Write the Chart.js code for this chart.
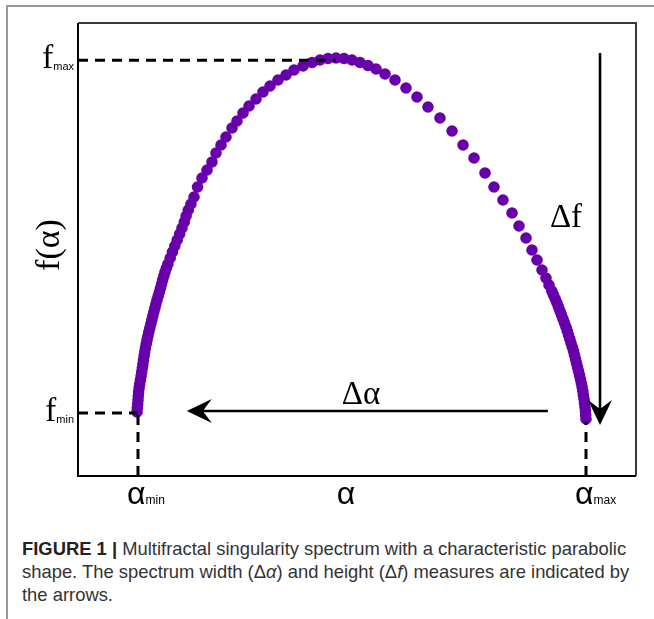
<!DOCTYPE html>
<html>
<head>
<meta charset="utf-8">
<script src="https://cdn.jsdelivr.net/npm/chart.js@4.4.1/dist/chart.umd.min.js"></script>
<style>
    html, body { margin: 0; padding: 0; background: #fff; }
    body { width: 654px; height: 619px; position: relative; overflow: hidden; }
    #frame { position: absolute; left: 6px; top: 5px; right: -4px; bottom: -4px;
             border-top: 2px solid #9a9a9a; border-left: 2px solid #9a9a9a; }
    #chartBox { position: absolute; left: 0; top: 0; width: 654px; height: 520px; }
    #caption { position: absolute; left: 22px; top: 537px; width: 630px;
               font: 18.4px "Liberation Sans", Arial, sans-serif; line-height: 23px;
               color: #333; white-space: nowrap; }
    #caption b { color: #222; }
</style>
</head>
<body>
<div id="frame"></div>
<div id="chartBox"><canvas id="spectrum" width="654" height="520"></canvas></div>
<div id="caption"><b>FIGURE 1 |</b> Multifractal singularity spectrum with a characteristic parabolic<br>shape. The spectrum width (Δ<i>α</i>) and height (Δ<i>f</i>) measures are indicated by<br>the arrows.</div>

<script>
// Spectre f(alpha), unités normalisées (0..1)
const spectrumAlpha = [
    // branche gauche (dense)
    0.10573, 0.10627, 0.10699, 0.10753, 0.10806, 0.10860, 0.10950, 0.11057, 0.11183, 0.11308,
    0.11416, 0.11523, 0.11631, 0.11738, 0.11846, 0.11953, 0.12079, 0.12222, 0.12366, 0.12527,
    0.12688, 0.12867, 0.13047, 0.13226, 0.13405, 0.13584, 0.13781, 0.13961, 0.14158, 0.14373,
    0.14588, 0.14785, 0.14982, 0.15161, 0.15376, 0.15591, 0.15842, 0.16111,
    0.16523, 0.16918, 0.17348, 0.17778, 0.18208, 0.18638, 0.19050, 0.19373, 0.19767, 0.20233,
    // haut de la courbe
    0.2079, 0.2142, 0.2222, 0.2312, 0.2401, 0.2473, 0.2563, 0.2652,
    0.2760, 0.2849, 0.2957, 0.3065, 0.3190, 0.3315, 0.3441, 0.3584, 0.3728, 0.3871,
    0.4032, 0.4194, 0.4337, 0.4480, 0.4624, 0.4767, 0.4910, 0.5054, 0.5197, 0.5341,
    0.5502, 0.5681, 0.5878, 0.6075, 0.6272, 0.6487, 0.6703, 0.6900, 0.7097, 0.7294,
    0.7455, 0.7616, 0.7778, 0.7903, 0.8029, 0.8136, 0.8226, 0.8315, 0.8387, 0.84409,
    // branche droite (dense)
    0.84910, 0.85215, 0.85538, 0.85842, 0.86111, 0.86380, 0.86649, 0.86918, 0.87186, 0.87455,
    0.87688, 0.87903, 0.88136, 0.88351, 0.88584, 0.88799, 0.88978, 0.89158, 0.89337, 0.89516,
    0.89695, 0.89875, 0.90036, 0.90197, 0.90341, 0.90466, 0.90573, 0.90681, 0.90771, 0.90860,
    0.90932, 0.90986, 0.91039
];
const spectrumF = [
    0.14128, 0.15011, 0.15894, 0.16777, 0.17660, 0.18543, 0.19426, 0.20309, 0.21192, 0.22075,
    0.22958, 0.23841, 0.24724, 0.25607, 0.26490, 0.27373, 0.28256, 0.29139, 0.30022, 0.30905,
    0.31788, 0.32671, 0.33554, 0.34437, 0.35320, 0.36203, 0.37086, 0.37969, 0.38852, 0.39735,
    0.40618, 0.41501, 0.42384, 0.43267, 0.44150, 0.45033, 0.45916, 0.46799,
    0.48124, 0.49448, 0.50773, 0.52097, 0.53422, 0.54746, 0.56071, 0.57395, 0.58720, 0.60044,
    0.6159, 0.6380, 0.6578, 0.6755, 0.6932, 0.7130, 0.7307, 0.7483,
    0.7682, 0.7837, 0.8013, 0.8168, 0.8322, 0.8477, 0.8609, 0.8742, 0.8852, 0.8962,
    0.9051, 0.9128, 0.9183, 0.9216, 0.9227, 0.9216, 0.9183, 0.9128, 0.9062, 0.8985,
    0.8874, 0.8742, 0.8565, 0.8366, 0.8146, 0.7903, 0.7616, 0.7307, 0.7020, 0.6689,
    0.6380, 0.6093, 0.5806, 0.5519, 0.5254, 0.4989, 0.4768, 0.4547, 0.4371, 0.42163,
    0.40839, 0.39956, 0.39073, 0.38190, 0.37307, 0.36424, 0.35541, 0.34658, 0.33775, 0.32892,
    0.32009, 0.31126, 0.30243, 0.29360, 0.28477, 0.27594, 0.26711, 0.25828, 0.24945, 0.24062,
    0.23179, 0.22296, 0.21413, 0.20530, 0.19647, 0.18764, 0.17881, 0.16998, 0.16115, 0.15232,
    0.14349, 0.13466, 0.12583
];

// Repères (alpha_min, alpha_max, f_min, f_max)
const guideAlpha = [0.1075, 0.4624, 0.9104];   // alpha_min, alpha du pic, alpha_max
const guideF     = [0.139, 0.918, 0.121];      // f_min, f_max, f à alpha_max

// Flèches : [alpha départ, f départ, alpha arrivée, f arrivée]
const arrowDeltaAlpha = [0.842, 0.1435, 0.195, 0.1435];
const arrowDeltaF     = [0.9355, 0.934, 0.9355, 0.1126];

const PURPLE = '#6700aa';

function dashed(points) {
    return {
        type: 'line',
        data: points,
        borderColor: '#000',
        borderWidth: 3,
        borderDash: [10, 7],
        pointRadius: 0,
        fill: false,
        order: 1
    };
}

// Pointe de flèche concave
function arrowHead(ctx, x, y, angle) {
    const L = 25, W = 12, N = 9;
    ctx.save();
    ctx.translate(x, y);
    ctx.rotate(angle);
    ctx.beginPath();
    ctx.moveTo(0, 0);
    ctx.lineTo(-L, -W);
    ctx.lineTo(-L + N, 0);
    ctx.lineTo(-L, W);
    ctx.closePath();
    ctx.fill();
    ctx.restore();
}

function drawArrow(ctx, scales, a) {
    const x1 = scales.x.getPixelForValue(a[0]), y1 = scales.y.getPixelForValue(a[1]);
    const x2 = scales.x.getPixelForValue(a[2]), y2 = scales.y.getPixelForValue(a[3]);
    const ang = Math.atan2(y2 - y1, x2 - x1);
    ctx.beginPath();
    ctx.moveTo(x1, y1);
    ctx.lineTo(x2 - Math.cos(ang) * 16, y2 - Math.sin(ang) * 16);
    ctx.stroke();
    arrowHead(ctx, x2, y2, ang);
}

// Cadre + axes
const framePlugin = {
    id: 'frame',
    beforeDatasetsDraw(chart) {
        const { ctx, chartArea: a } = chart;
        ctx.save();
        ctx.lineWidth = 2;
        ctx.strokeStyle = '#3a3a3a';
        ctx.beginPath();
        ctx.moveTo(a.left, a.top); ctx.lineTo(a.right, a.top); ctx.lineTo(a.right, a.bottom);
        ctx.stroke();
        ctx.strokeStyle = '#000';
        ctx.beginPath();
        ctx.moveTo(a.left, a.top); ctx.lineTo(a.left, a.bottom); ctx.lineTo(a.right, a.bottom);
        ctx.stroke();
        ctx.restore();
    }
};

// Flèches + étiquettes
const annotPlugin = {
    id: 'annot',
    afterDatasetsDraw(chart) {
        const { ctx, scales, chartArea: a } = chart;
        ctx.save();
        ctx.strokeStyle = '#000';
        ctx.fillStyle = '#000';
        ctx.lineWidth = 2.6;
        drawArrow(ctx, scales, arrowDeltaAlpha);
        drawArrow(ctx, scales, arrowDeltaF);

        const serif = '"Liberation Serif", "DejaVu Serif", serif';
        const sans  = '"Liberation Sans", Arial, sans-serif';
        ctx.textBaseline = 'alphabetic';

        // f_max / f_min à gauche de l'axe
        function fLabel(sub, fv) {
            const y = scales.y.getPixelForValue(fv);
            ctx.font = '11px ' + sans;
            const w = ctx.measureText(sub).width;
            ctx.textAlign = 'right';
            ctx.fillText(sub, a.left - 4, y + 10);
            ctx.font = '33px ' + serif;
            ctx.fillText('f', a.left - 4 - w, y + 8);
        }
        fLabel('max', guideF[1]);
        fLabel('min', guideF[0]);

        // alpha_min / alpha / alpha_max sous l'axe
        function aLabel(sub, av) {
            const x = scales.x.getPixelForValue(av);
            ctx.textAlign = 'left';
            ctx.font = '32px ' + sans;
            const w = ctx.measureText('α').width;
            ctx.fillText('α', x - 11, a.bottom + 28);
            ctx.font = '12px ' + sans;
            ctx.fillText(sub, x - 11 + w, a.bottom + 28);
        }
        aLabel('min', guideAlpha[0]);
        aLabel('max', guideAlpha[2]);
        ctx.textAlign = 'center';
        ctx.font = '32px ' + sans;
        ctx.fillText('α', 346, a.bottom + 28);

        // Delta
        ctx.font = '33px ' + serif;
        ctx.fillText('Δα', 361, 404);
        ctx.fillText('Δf', 566, 227);

        // f(alpha) vertical
        ctx.translate(50, 245);
        ctx.rotate(-Math.PI / 2);
        ctx.font = '34px ' + serif;
        ctx.textBaseline = 'middle';
        ctx.fillText('f(α)', 0, 0);
        ctx.restore();
    }
};

new Chart(document.getElementById('spectrum').getContext('2d'), {
    type: 'scatter',
    data: {
        datasets: [
            {
                data: spectrumAlpha.map((x, i) => ({ x, y: spectrumF[i] })),
                backgroundColor: PURPLE,
                borderWidth: 0,
                pointRadius: 5.8,
                order: 2
            },
            dashed([{ x: 0, y: guideF[1] }, { x: guideAlpha[1], y: guideF[1] }]),
            dashed([{ x: 0, y: guideF[0] }, { x: guideAlpha[0], y: guideF[0] }]),
            dashed([{ x: guideAlpha[0], y: 0 }, { x: guideAlpha[0], y: guideF[0] }]),
            dashed([{ x: guideAlpha[2], y: 0 }, { x: guideAlpha[2], y: guideF[2] }])
        ]
    },
    options: {
        responsive: false,
        animation: false,
        layout: { padding: { left: 78, top: 23, right: 18, bottom: 44 } },
        plugins: { legend: { display: false }, tooltip: { enabled: false } },
        scales: {
            x: { type: 'linear', min: 0, max: 1, display: false },
            y: { type: 'linear', min: 0, max: 1, display: false }
        }
    },
    plugins: [framePlugin, annotPlugin]
});
</script>
</body>
</html>
